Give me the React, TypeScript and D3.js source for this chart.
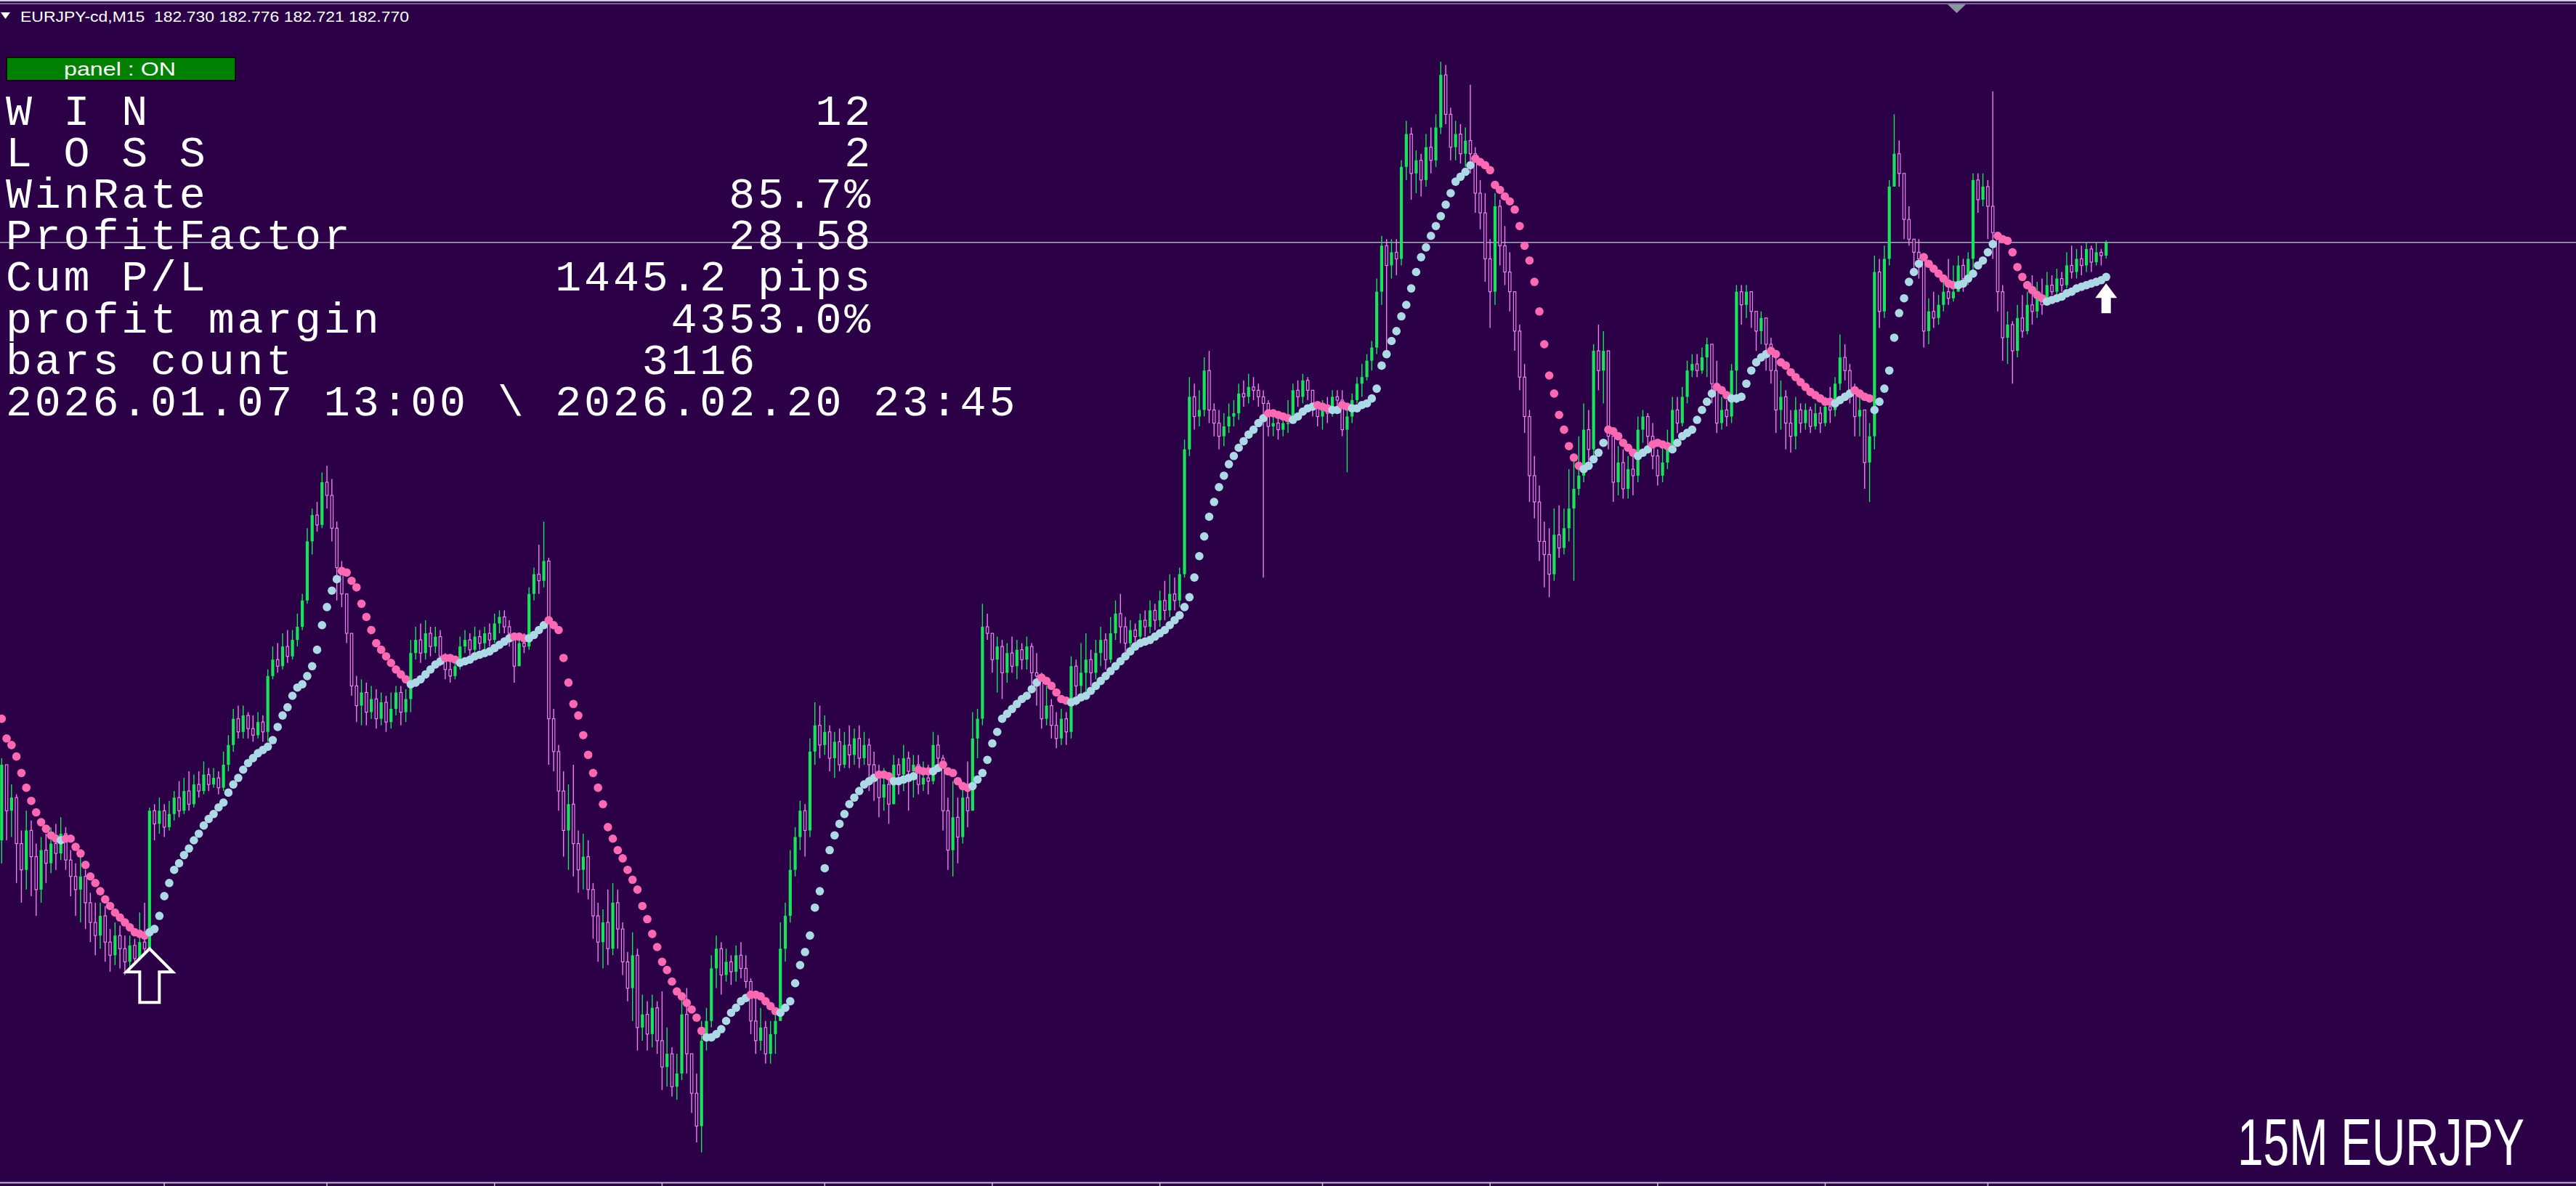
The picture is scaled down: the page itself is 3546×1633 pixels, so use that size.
import React, { useEffect, useRef } from 'react';
import * as d3 from 'd3';

const WIDTH = 3546;
const HEIGHT = 1633;

const BG = '#2b0046';
const GREEN = '#19e35b';
const VIOLET = '#ee82ee';
const DOT_DOWN = '#ff69b4';
const DOT_UP = '#add8e6';

// prices are stored in pips (0.01) above BASE
const BASE = 180;
const PIP = 0.01;
const FIRST_OPEN = 95;

// rows: [high, low, close, trailing stop]
const legA = [
  [120,88,118,132],[118,95,104,126],[112,96,108,124],[109,82,94,120.5],[98,76,86,115.5],
  [104,80,98,111],[101,78,90,107],[94,72,80,103.5],[96,76,92,100.5],[97,82,88,98.5],
  [99,85,94,96.5],[100,86,91,95.5],[102,89,97,95],[99,86,89,95.5],[92,78,84,95.5],
  [88,72,80,93],[90,70,84,91],[86,68,76,87.5],[79,64,70,84],[76,60,66,82],
  [76,62,72,79.5],[75,58,64,77],[68,55,60,75],[70,57,66,73],[69,56,62,71.5],
  [66,54,58,70],[66,55,63,68.5],[65,55,59,67],[73,56,64,66.5],[76,58,62,66],
  [105,60,104,67],
];

const legB = [
  [106,95,100,68],[108,97,104,72],[106,96,99,78],[107,98,103,82],[110,101,108,86],
  [113,102,104,88],[114,103,110,90.5],[116,104,106,92.5],[115,105,112,95],[116,108,110,97],
  [119,109,115,99.5],[117,110,112,101.5],[117,111,114,103],[116,109,111,105],[122,110,118,106.5],
  [127,116,124,109.5],[135,122,132,112],[136,126,128,114],[136,126,133,116.5],[134,126,129,118.5],
  [133,125,127,120],[134,126,131,121.5],[133,125,128,122.5],[147,125,145,123.5],[154,144,150,125.5],
  [155,146,148,129.5],[158,147,154,133],[159,149,151,135.5],[159,150,156,139],[164,154,160,141.5],
  [170,159,168,142.5],[190,167,186,145],[196,182,194,148],[198,189,191,153],[207,190,204,160.5],
  [209,196,200,166],[205,186,190,171],[192,168,178,174.5],[180,166,170,177],[168,155,158,176.5],
  [156,139,142,174],[145,131,136,172],[144,130,140,167],[143,130,134,163],[142,132,138,159],
  [141,129,132,155],[140,130,137,153],[139,128,131,151],[140,129,135,149],[142,133,140,147],
  [142,130,134,145.5],[141,131,138,144],[156,134,152,142.5],[160,150,156,143],[161,149,152,144],
  [162,150,158,145.5],[160,151,154,147],[160,152,157,148.5],[159,148,151,149.5],[152,144,147,150.5],
  [150,143,145,150.5],[151,144,148,150],[157,147,154,149],[159,152,156,149.5],[158,151,153,150],
  [160,152,157,151],[159,153,155,151.5],[160,153,158,152],[161,154,156,152.5],[164,155,161,153.5],
  [165,158,163,154.5],[165,158,160,155.5],[162,154,158,156.5],[157,143,148,157],[157,151,155,157],
  [158,152,154,156.5],[172,153,170,156.5],[178,168,176,157.5],[185,170,174,159],[192,172,180,160.5],
  [181,118,132,162],
];

const legC = [
  [135,116,122,160.5],[124,104,110,159],[116,90,98,150.5],[112,86,106,143],[118,84,94,136.5],
  [98,79,86,133],[97,80,90,127],[95,77,80,121],[82,65,72,115.5],[76,58,64,111],
  [74,56,70,106],[80,57,62,99],[82,60,76,95.5],[80,62,68,92],[70,54,58,89.5],
  [61,46,50,86],[67,40,60,83],[62,31,38,80],[48,34,42,75],[46,31,36,71],
  [48,32,44,66.5],[46,30,34,62.5],[49,19,26,58],[38,20,30,55.5],[32,17,20,52],
  [30,16,24,49],[48,22,42,47.5],[50,24,30,45.5],[28,12,18,43.5],[24,3,8,41],
  [40,0,34,37],[44,31,40,35],[60,38,56,35],[66,50,62,36],[64,48,54,37.5],
  [62,52,58,40],[60,51,55,42.5],[63,52,60,44],[64,53,56,46],[60,50,52,47],
  [53,36,40,48],[48,30,34,48],[44,31,38,47.5],[40,27,30,46],[40,27,36,44.5],
  [44,30,40,43],[70,40,62,42.5],[76,58,72,44],[92,70,86,46],[99,84,96,51.5],
  [107,92,104,57],[106,90,98,61],[126,96,122,66],[137,118,130,74.5],[136,120,124,79.5],
  [133,121,128,86.5],[130,116,120,92],[128,114,125,96.5],[129,116,118,100],[128,117,124,103],
  [130,117,121,106],[129,118,126,108],[130,117,120,110],[128,118,124,112],[126,110,118,113],
  [122,107,115,114],[118,102,108,115],[117,104,112,115],[114,100,106,114.5],[121,106,118,113],
  [120,109,115,113],[124,110,120,113.5],[122,104,116,114],[121,108,118,114.5],[121,109,112,116.5],
  [119,110,114,116],[118,109,113,116],[128,112,124,116],[127,117,120,117],[121,98,104,118],
  [108,86,92,116],[113,84,102,115.5],[108,88,96,113],[112,94,108,111.5],[119,99,104,111],
  [134,114,126,111.5],[135,120,132,113.5],[167,130,160,115.5],[164,156,158,119.5],[158,146,150,124.5],
  [157,140,154,128],[156,138,146,132],[155,143,152,133.5],[157,146,148,135],[156,144,153,136.5],
  [155,147,150,138],[157,147,154,139],[155,142,146,141],[152,136,145,143],[146,129,132,144.5],
  [142,130,136,143.5],[138,126,130,142],[134,123,126,140],[135,124,132,138],[134,124,128,137.5],
  [151,126,148,137],[150,136,142,137.5],[155,138,146,138.5],[158,140,150,139],
];

const legD = [
  [153,142,146,140.5],[156,144,152,142],[160,148,156,143.5],[158,147,150,145],[163,149,158,146.5],
  [168,156,164,148],[170,155,160,149.5],[163,152,155,151],[162,153,159,152.5],[161,155,157,154],
  [164,156,162,155],[165,157,160,155.5],[168,158,165,156],[167,159,162,157],[171,160,168,158],
  [174,162,165,159],[176,163,170,160.5],[175,165,168,162],[178,166,176,163.5],[217,175,214,166],
  [236,212,230,169],[234,220,224,175],[232,221,226,181.5],[242,224,238,187.5],[244,222,226,193.5],
  [228,218,222,198],[226,214,218,202.5],[225,215,221,206],[228,219,224,209.5],[229,221,225,212],
  [234,223,231,214.5],[235,227,230,216.5],[237,228,233,218.5],[236,229,232,220],[234,227,230,222],
  [232,175,228,223.5],[229,218,221,225],[226,218,222,225],[224,217,220,224.5],[225,218,222,224],
  [229,219,222,223.5],[234,222,232,223],[235,227,230,224],[237,228,235,225.5],[236,229,232,226.5],
  [232,224,228,227],[228,221,224,227.5],[229,220,226,227],[230,222,225,226.5],[232,224,230,226],
  [232,226,229,226],[232,218,220,227.5],[226,207,224,227],[231,222,229,226.5],[236,228,234,226.5],
  [240,230,236,227.5],[243,235,241,228],[247,238,245,229.5],[266,243,262,232.5],[279,258,276,239.5],
  [278,244,270,243],[278,266,274,247],[278,267,272,250],[302,270,300,254.5],[314,296,310,258],
  [312,290,298,263],[305,292,302,268],[304,291,296,272.5],[310,294,306,275.5],[312,298,302,279],
  [316,300,312,282],[332,310,328,285],[331,313,316,288.5],[318,302,306,292],[314,302,310,295.5],
  [313,301,304,297],[312,300,308,298.5],[325,298,304,300.5],[306,286,292,302.5],
];

const legE = [
  [296,281,286,301.5],[292,265,272,300.5],[278,251,262,299],[292,258,288,294.5],[290,270,276,293],
  [282,264,268,291],[274,256,262,289.5],[262,244,250,287],[252,232,236,282],[240,219,224,276],
  [226,198,206,271.5],[212,193,198,265],[203,180,186,256],[192,172,182,246],[190,169,176,236.5],
  [196,174,188,231],[197,181,184,224.5],[196,182,190,220],[208,186,196,215],[212,174,202,211.5],
  [218,200,206,209],[228,204,220,208],[226,208,214,209],[246,212,244,211],[252,232,238,213],
  [250,228,244,216],[241,214,218,220],[220,198,204,219.5],[215,200,210,218],[214,199,202,216],
  [212,199,208,214.5],[212,200,206,213],[224,204,220,212],[226,216,224,213],[225,215,218,214],
  [222,208,212,215.5],[214,203,206,216],[215,204,210,215.5],[220,208,214,215],[230,214,226,214],
  [230,219,222,216],[233,221,230,218],[241,228,238,219],[243,236,240,220],[243,236,238,223],
  [245,237,242,226],[248,236,246,228.5],[246,228,234,231],[241,219,222,233],[230,220,226,232],
  [229,221,224,230.5],[240,222,238,229.5],[264,228,262,229.5],[264,252,258,230],[264,254,262,234],
  [262,251,256,238],[254,244,250,240.5],[256,246,254,242],[251,238,246,243],[248,234,238,244],
  [243,219,226,243],[235,220,230,240.5],[232,214,222,239.5],[226,213,218,237.5],[230,214,226,236],
  [228,219,222,234.5],[228,220,226,233],[227,219,221,231.5],[228,220,225,230.5],[227,219,222,229.5],
  [230,221,227,228.5],[233,222,226,228.5],[236,224,234,228],[249,232,242,229],[246,235,238,230],
  [240,228,232,231],[234,218,224,232],[230,218,226,231],[224,202,210,230],[222,198,218,229.5],
  [273,214,268,226],[272,251,256,228.5],[276,254,272,232.5],[296,270,294,238],[316,294,304,248],
  [308,294,298,255.5],[296,278,284,260],[288,276,278,265],[278,268,274,268],[278,266,272,270.5],
  [272,245,250,272.5],[260,246,256,270.5],[262,251,254,269],[261,252,258,267.5],[265,256,262,266],
  [272,258,260,264.5],[270,259,262,264],[273,262,270,264],[272,262,266,264.5],[274,264,272,266],
  [298,268,296,267.5],[298,286,290,270],[298,288,294,271.5],[296,278,288,274],[323,272,280,276.5],
  [280,256,262,279],[264,241,248,278],[256,240,252,277.5],[253,234,244,274],[258,242,254,269.5],
  [261,248,250,266.5],[262,249,258,264],[267,252,256,262.5],[265,254,260,261],[266,255,258,260],
  [268,258,264,259],[267,261,262,259.5],[269,261,266,260],[268,262,264,260.5],[274,263,270,261.5],
  [276,266,268,262],[275,266,272,263],[276,267,270,263.5],[277,268,275,264],[276,268,271,264.5],
  [277,270,274,265],[275,270,273,265.5],[277.6,272.1,277,266.5],
];

const timeTickBars = [33, 66, 100, 134, 167, 201, 235, 268, 302, 336, 370, 403];

const signalBars = [30, 427];
const signalPrices = [180.62, 182.645];
const signalKinds = ['entry', 'last'];

const header = 'EURJPY-cd,M15  182.730 182.776 182.721 182.770';
const panelLabels = ['W I N', 'L O S S', 'WinRate', 'ProfitFactor', 'Cum P/L', 'profit margin', 'bars count'];
const panelValues = ['12', '2', '85.7%', '28.58', '1445.2 pips', '4353.0%', '3116'];
const panelCols = [30, 30, 30, 30, 30, 30, 26];
const dateRange = '2026.01.07 13:00 \\ 2026.02.20 23:45';
const cornerLabel = '15M EURJPY';

export default function App() {
  const svgRef = useRef<SVGSVGElement>(null);

  useEffect(() => {
    if (!svgRef.current) return;
    const svg = d3.select(svgRef.current);
    svg.selectAll('*').remove();

    const rows = [...legA, ...legB, ...legC, ...legD, ...legE];
    const bars = rows.map((r, i) => {
      const open = BASE + (i === 0 ? FIRST_OPEN : rows[i - 1][2]) * PIP;
      const close = BASE + r[2] * PIP;
      return {
        i,
        open,
        close,
        high: Math.max(BASE + r[0] * PIP, open, close),
        low: Math.min(BASE + r[1] * PIP, open, close),
        stop: BASE + r[3] * PIP,
      };
    });

    const x = d3.scaleLinear().domain([0, bars.length - 1]).range([2.3, 2899.2]);
    const y = d3.scaleLinear().domain([183.508, 179.908]).range([0, 1628.3]);

    svg.append('rect').attr('width', WIDTH).attr('height', HEIGHT).attr('fill', BG);

    // window frame on top
    svg.append('line').attr('x1', 0).attr('x2', WIDTH).attr('y1', 1).attr('y2', 1)
      .attr('stroke', '#d4cce2').attr('stroke-width', 2);
    svg.append('line').attr('x1', 0).attr('x2', WIDTH).attr('y1', 5).attr('y2', 5)
      .attr('stroke', '#8f84ae').attr('stroke-width', 1.5);
    svg.append('polygon').attr('points', '2681,6 2706,6 2693.5,18').attr('fill', '#8d96a6');

    // bid line
    const last = bars[bars.length - 1];
    svg.append('line').attr('x1', 0).attr('x2', WIDTH)
      .attr('y1', y(last.close)).attr('y2', y(last.close))
      .attr('stroke', '#aeaac4').attr('stroke-width', 1.6);

    // bottom time axis
    svg.append('line').attr('x1', 0).attr('x2', WIDTH).attr('y1', 1628.5).attr('y2', 1628.5)
      .attr('stroke', '#c4bcd4').attr('stroke-width', 2);
    svg.append('g').selectAll('line').data(timeTickBars).join('line')
      .attr('x1', d => x(d)).attr('x2', d => x(d))
      .attr('y1', 1629).attr('y2', HEIGHT)
      .attr('stroke', '#c4bcd4').attr('stroke-width', 1.5);

    const isUp = (d: typeof bars[number]) => d.close >= d.open;

    // candles
    const candles = svg.append('g');
    candles.selectAll('line').data(bars).join('line')
      .attr('x1', d => x(d.i)).attr('x2', d => x(d.i))
      .attr('y1', d => y(d.high)).attr('y2', d => y(d.low))
      .attr('stroke', d => (isUp(d) ? GREEN : VIOLET))
      .attr('stroke-width', 1.4);
    candles.selectAll('rect').data(bars).join('rect')
      .attr('x', d => x(d.i) - (isUp(d) ? 2.1 : 1.7))
      .attr('width', d => (isUp(d) ? 4.2 : 3.4))
      .attr('y', d => y(Math.max(d.open, d.close)))
      .attr('height', d => Math.max(1.4, Math.abs(y(d.open) - y(d.close))))
      .attr('fill', d => (isUp(d) ? GREEN : BG))
      .attr('stroke', d => (isUp(d) ? 'none' : VIOLET))
      .attr('stroke-width', 1.2);

    // trailing stop dots
    svg.append('g').selectAll('circle').data(bars).join('circle')
      .attr('cx', d => x(d.i)).attr('cy', d => y(d.stop)).attr('r', 5.8)
      .attr('fill', d => (d.stop > d.close ? DOT_DOWN : DOT_UP));

    // signal arrows
    signalBars.forEach((b, k) => {
      const cx = x(b);
      const ty = y(signalPrices[k]);
      if (signalKinds[k] === 'entry') {
        const hw = 32, hh = 32, sw = 13.5, len = 74;
        svg.append('path')
          .attr('d', `M${cx},${ty} L${cx + hw},${ty + hh} L${cx + sw},${ty + hh} L${cx + sw},${ty + len} L${cx - sw},${ty + len} L${cx - sw},${ty + hh} L${cx - hw},${ty + hh} Z`)
          .attr('fill', BG).attr('stroke', '#ffffff').attr('stroke-width', 4).attr('stroke-linejoin', 'miter');
      } else {
        const hw = 15, hh = 20, sw = 6.5, len = 41;
        svg.append('path')
          .attr('d', `M${cx},${ty} L${cx + hw},${ty + hh} L${cx + sw},${ty + hh} L${cx + sw},${ty + len} L${cx - sw},${ty + len} L${cx - sw},${ty + hh} L${cx - hw},${ty + hh} Z`)
          .attr('fill', '#ffffff');
      }
    });

    // header
    svg.append('polygon').attr('points', '1,17 14,17 7.5,26').attr('fill', '#ffffff');
    svg.append('text').attr('x', 28).attr('y', 30)
      .attr('font-family', 'Liberation Sans, Arial, sans-serif').attr('font-size', 21)
      .attr('fill', '#ffffff').attr('textLength', 535).attr('lengthAdjust', 'spacingAndGlyphs')
      .style('white-space', 'pre')
      .text(header);

    // panel button
    svg.append('rect').attr('x', 9).attr('y', 79).attr('width', 315).attr('height', 32)
      .attr('fill', '#008000').attr('stroke', '#0b0b0b').attr('stroke-width', 2);
    svg.append('text').attr('x', 88).attr('y', 104)
      .attr('font-family', 'Liberation Sans, Arial, sans-serif').attr('font-size', 26)
      .attr('fill', '#ffffff').attr('textLength', 154).attr('lengthAdjust', 'spacingAndGlyphs')
      .style('white-space', 'pre')
      .text('panel : ON');

    // stats panel
    const lines = panelLabels.map((lab, k) => lab.padEnd(panelCols[k] - panelValues[k].length) + panelValues[k]);
    lines.push(dateRange);
    svg.append('g').selectAll('text').data(lines).join('text')
      .attr('x', 8).attr('y', (_, k) => 172 + k * 57.1)
      .attr('font-family', 'Liberation Mono, DejaVu Sans Mono, monospace')
      .attr('font-size', 60).attr('letter-spacing', 3.8)
      .attr('fill', '#ffffff')
      .style('white-space', 'pre')
      .text(d => d);

    // corner label, squeezed to the condensed look of the original
    const corner = svg.append('text')
      .attr('font-family', 'Liberation Sans, Arial, sans-serif').attr('font-size', 90)
      .attr('fill', '#ffffff')
      .style('white-space', 'pre')
      .text(cornerLabel);
    const natural = (corner.node() as SVGTextElement).getComputedTextLength() || 555;
    corner.attr('transform', `translate(3080,1604) scale(${395 / natural},1)`);
  }, []);

  return (
    <div>
      <style>{`body{margin:0;background:${BG};}`}</style>
      <svg ref={svgRef} width={WIDTH} height={HEIGHT} style={{ display: 'block' }} />
    </div>
  );
}
